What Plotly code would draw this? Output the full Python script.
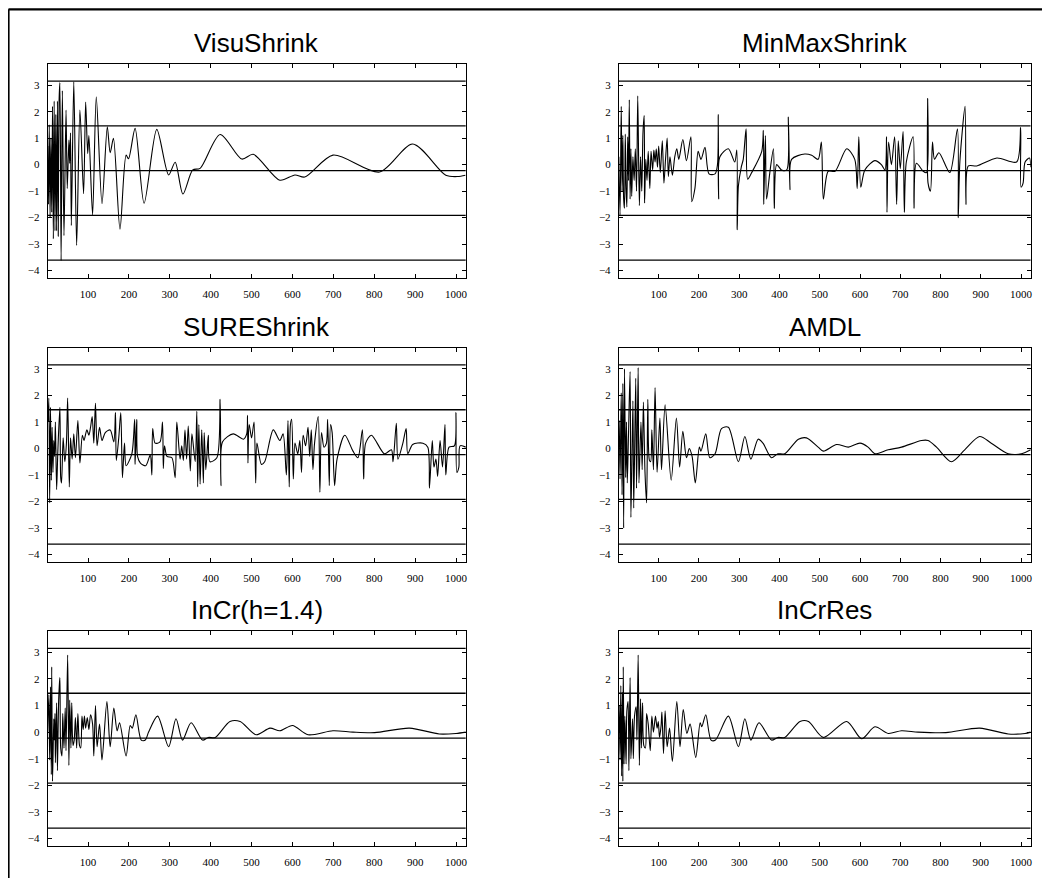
import plotly.graph_objects as go

# ---------------- data ----------------
titles = ["VisuShrink", "MinMaxShrink", "SUREShrink", "AMDL", "InCr(h=1.4)", "InCrRes"]
ref_levels = [3.15, 1.46, -0.23, -1.92, -3.61]
x_tickvals = [100, 200, 300, 400, 500, 600, 700, 800, 900, 1000]
y_tickvals = [-4, -3, -2, -1, 0, 1, 2, 3]

visu_x = [1, 3, 5, 7, 9, 11, 13, 15, 17, 19, 21, 23, 25, 27, 29, 31, 34, 37, 41, 46,
          49, 53, 55, 57, 59, 65, 72, 80, 89, 94, 99, 102, 111, 120, 134, 147, 154, 162, 178, 193,
          199, 215, 237, 268, 297, 313, 332, 356, 374, 423, 476, 504, 569, 606, 630, 699, 813, 894, 975, 1004,
          1023]
visu_y = [0.7, -1.5, 1.5, -2.0, 1.0, -1.8, 2.2, -2.8, 2.4, -2.5, 1.9, -2.5, 2.4, -2.7, 2.4, 3.1, -3.62, 2.79, -2.68, 2.06,
          -0.9, 0.93, 0.05, 1.2, -2.3, 3.13, -3.05, 2.06, -1.1, 2.36, 0.42, 1.1, -1.9, 2.56, -1.48, 1.43, 0.45, 0.99, -2.44, 0.36,
          0.22, 1.37, -1.46, 1.33, -0.39, 0.09, -1.11, -0.2, -0.14, 1.14, 0.21, 0.39, -0.59, -0.39, -0.47, 0.36, -0.28, 0.78, -0.4, -0.45,
          -0.4]

minmax_x = [1, 4, 7, 9, 11, 13, 15, 17, 19, 21, 23, 25, 27, 29, 31, 33, 36, 39, 42, 45,
            48, 52, 55, 58, 61, 64, 65, 68, 71, 74, 78, 81, 85, 88, 91, 94, 97, 100, 104, 109,
            113, 117, 121, 124, 128, 134, 140, 145, 150, 160, 169, 180, 182, 190, 198, 205, 215, 225, 240, 246,
            248, 249, 252, 273, 289, 294, 295, 298, 305, 310, 317, 321, 331, 356, 360, 361, 365, 368, 376, 385,
            387, 393, 405, 418, 422, 426, 430, 463, 480, 496, 504, 509, 521, 538, 567, 587, 593, 597, 602, 612,
            637, 653, 662, 666, 667, 671, 678, 686, 691, 695, 700, 707, 710, 715, 732, 734, 740, 757, 765, 768,
            769, 775, 780, 785, 796, 823, 842, 844, 848, 861, 863, 869, 890, 940, 989, 999, 1000, 1005, 1010, 1021,
            1024]
minmax_y = [0.3, -1.9, 2.2, -1.0, 1.1, -1.3, -1.65, 1.15, -0.9, -1.6, 1.05, -0.6, 2.45, -1.3, 0.6, -1.2, 0.3, -0.6, 0.6, -1.0,
            2.6, -1.55, 0.3, -1.0, 1.2, 1.85, -1.45, 0.2, -0.6, 0.5, -0.9, 0.5, -0.2, 0.55, 0.1, 0.6, -0.1, 0.7, -0.3, 0.9,
            -0.7, 0.2, 1.0, -0.45, 0.3, -0.4, 0.3, 0.6, 0.2, 0.95, 0.15, 1.05, -1.4, -0.9, 0.5, 0.2, 0.65, -0.35, -0.35, 0.0,
            1.9, -1.3, 0.3, 0.6, 0.1, 0.55, -2.46, -0.8, -0.1, 0.2, 1.35, -0.55, -0.3, 0.5, 1.3, -1.5, 1.1, -1.3, -0.3, 0.6,
            -1.65, 0.0, -0.2, -0.2, 1.8, -0.95, 0.2, 0.4, 0.35, 0.2, 0.85, -1.3, -0.25, -0.25, 0.6, 0.2, -0.9, 1.05, -0.85, -0.2,
            0.15, 0.0, -0.2, 1.05, -1.8, 0.85, 0.0, 1.05, -1.5, 0.9, -0.15, 1.25, -1.8, 0.1, 1.05, -1.65, 0.05, -0.25, -0.3, 2.5,
            -0.7, -1.0, 0.85, 0.2, 0.45, -0.3, 1.35, -2.0, 0.1, 2.2, -1.5, -0.05, -0.05, 0.25, 0.1, 1.4, -0.85, -0.7, 0.1, 0.25,
            -0.1]

sure_x = [2, 4, 6, 8, 10, 12, 14, 16, 18, 20, 23, 26, 31, 33, 35, 39, 43, 47, 50, 54,
          57, 61, 65, 69, 75, 80, 86, 90, 97, 102, 106, 110, 114, 118, 122, 128, 134, 142, 154, 163,
          167, 169, 175, 180, 184, 189, 193, 207, 214, 215, 219, 221, 228, 241, 252, 256, 258, 264, 276, 282,
          284, 287, 293, 305, 313, 317, 325, 329, 333, 337, 341, 345, 350, 354, 362, 366, 368, 371, 374, 378,
          382, 384, 388, 394, 398, 415, 423, 425, 429, 455, 480, 488, 490, 491, 494, 500, 506, 510, 513, 524,
          532, 553, 569, 577, 585, 589, 592, 595, 598, 602, 606, 613, 618, 622, 626, 632, 638, 642, 646, 650,
          654, 663, 667, 671, 677, 683, 686, 690, 693, 697, 703, 709, 728, 748, 760, 771, 774, 779, 793, 825,
          842, 846, 854, 858, 870, 878, 882, 894, 919, 931, 935, 942, 946, 951, 955, 961, 967, 973, 975, 983,
          996, 1000, 1002, 1007, 1010, 1024]
sure_y = [1.0, 1.9, -2.05, 1.55, -1.2, 0.8, -0.9, 0.3, -0.3, 1.0, -1.55, -0.1, 1.55, -1.1, -1.3, 0.4, -0.5, 0.2, 1.9, -1.45,
          0.4, -0.4, 0.55, -0.35, 1.05, -0.55, 0.5, 0.3, 0.7, 0.5, 0.8, 1.2, 0.2, 1.7, 0.1, 0.8, 0.3, 0.6, 0.7, 0.25,
          1.35, -0.45, 0.4, 1.35, -1.1, 0.2, -0.65, -0.2, 1.1, -0.6, 1.1, -0.3, -0.55, -0.65, -0.25, -1.0, 0.75, 0.2, 0.25, 1.0,
          -0.75, 0.1, -0.3, -0.35, -1.1, 1.0, -0.4, 0.1, -0.45, 0.7, -0.4, 0.85, -0.85, 0.55, -0.5, 1.4, -1.45, 0.9, -1.35, 0.7,
          -1.3, 0.6, -0.8, 0.5, -0.5, -0.35, 1.85, -1.4, 0.25, 0.55, 0.35, 0.55, 1.25, -0.55, 0.9, 0.4, 1.0, -1.3, 0.2, -0.6,
          -0.5, 0.7, 0.3, 0.55, -1.0, 1.05, -1.45, 0.9, 1.1, -1.15, 0.2, -0.2, 0.3, -0.9, 0.5, 0.1, 0.8, -0.3, 0.7, -0.8,
          0.2, 1.2, -1.65, 0.6, 0.05, 0.2, 1.1, -1.4, 0.9, 0.6, -1.4, -0.4, 0.5, -0.1, -0.35, 0.7, -1.15, 0.2, 0.5, -0.2,
          -0.05, -0.5, 0.95, -0.4, 0.2, 0.75, -0.2, 0.15, 0.2, 0.05, -1.5, 0.3, -0.7, -0.4, -1.05, 0.3, -0.7, 0.9, -1.0, 0.05,
          0.1, 1.35, -0.9, -0.7, 0.1, 0.05]

amdl_x = [1, 2, 4, 7, 9, 11, 13, 15, 18, 20, 22, 25, 29, 31, 36, 38, 43, 45, 49, 51,
          56, 59, 62, 66, 70, 73, 77, 80, 83, 87, 91, 96, 103, 107, 116, 131, 144, 152, 160, 169,
          176, 183, 191, 201, 205, 217, 227, 240, 256, 273, 298, 314, 329, 347, 359, 380, 396, 413, 447, 467,
          496, 509, 542, 571, 600, 620, 637, 670, 703, 753, 769, 790, 827, 860, 897, 926, 968, 1001, 1024]
amdl_y = [0.3, 1.05, -1.15, 2.1, -1.75, 2.45, -3.0, 3.0, -1.1, 1.0, -1.3, 0.5, 2.9, -2.6, 1.8, -2.25, 2.65, -1.5, 3.05, -1.3,
          1.0, -0.8, 1.75, -0.9, -2.05, 1.85, -0.45, -0.5, 0.7, -0.8, 2.3, -0.9, 1.15, -0.8, 1.65, -1.2, 1.15, -0.7, 0.65, -0.35,
          0.0, -0.3, -1.3, 0.05, -0.1, 0.55, -0.35, -0.2, 0.75, 0.8, -0.5, 0.45, -0.4, 0.35, 0.2, -0.35, -0.2, -0.2, 0.35, 0.4,
          0.05, -0.1, 0.15, 0.05, 0.2, 0.05, -0.2, -0.05, 0.05, 0.3, 0.3, 0.05, -0.5, -0.05, 0.45, 0.2, -0.2, -0.2, -0.05]

incr_x = [1, 4, 6, 8, 10, 11, 13, 16, 17, 19, 20, 23, 25, 28, 31, 33, 36, 38, 41, 44,
          46, 50, 53, 55, 58, 60, 63, 66, 69, 72, 75, 79, 82, 85, 88, 91, 94, 98, 102, 106,
          111, 114, 118, 122, 128, 134, 146, 154, 163, 171, 177, 193, 203, 208, 217, 230, 240, 248, 270, 297,
          315, 331, 352, 380, 394, 411, 447, 472, 511, 545, 569, 600, 638, 699, 748, 801, 886, 959, 1000, 1024]
incr_y = [0.0, 1.4, -1.05, 1.7, -1.6, 2.45, -1.85, 0.5, -0.3, 0.7, -1.15, 1.1, -1.45, 1.2, 2.05, -0.6, -0.9, 0.7, -0.6, 0.9,
          -0.7, 2.9, -1.25, 1.2, -0.6, 1.1, -0.5, -0.3, 0.55, -0.6, 0.7, -0.5, -0.6, 0.6, 0.1, 0.6, 0.15, 0.55, 0.1, 0.65,
          0.3, -0.9, 1.0, -0.55, 0.3, -1.05, 1.15, -0.55, 0.9, 0.05, 0.35, -0.9, 0.25, 0.15, 0.65, -0.3, -0.3, 0.0, 0.6, -0.55,
          0.5, -0.3, 0.35, -0.3, -0.2, -0.2, 0.4, 0.4, -0.1, 0.15, 0.05, 0.25, -0.1, 0.05, 0.0, -0.02, 0.15, -0.07, -0.05, 0.0]

incrres_x = [1, 2, 4, 6, 8, 10, 11, 12, 14, 16, 19, 21, 24, 26, 29, 31, 35, 37, 40, 44,
             46, 49, 52, 55, 57, 60, 63, 67, 70, 74, 79, 83, 87, 92, 96, 99, 102, 106, 108, 112,
             116, 121, 127, 134, 145, 153, 161, 170, 178, 192, 203, 207, 217, 230, 241, 273, 298, 314, 329, 349,
             380, 396, 413, 451, 472, 509, 567, 604, 637, 670, 703, 744, 813, 897, 968, 1010, 1024]
incrres_y = [0.0, 1.0, -1.05, 1.75, -1.65, 1.5, -1.85, 2.45, -1.2, 0.6, -1.2, 0.8, 1.15, -1.45, 2.05, -1.0, 0.5, -1.0, 0.6, 0.95,
             -0.3, 2.9, -1.25, 1.25, -0.6, 1.1, -0.5, -0.6, 0.7, 0.3, -0.7, 0.6, 0.0, 0.6, 0.15, 0.4, -0.2, 0.25, 0.75, -0.8,
             0.8, -0.55, 0.15, -1.1, 1.15, -0.55, 0.85, -0.05, 0.3, -0.95, 0.35, 0.2, 0.65, -0.3, -0.3, 0.6, -0.55, 0.5, -0.3, 0.35,
             -0.3, -0.2, -0.2, 0.4, 0.4, -0.2, 0.4, -0.25, 0.2, -0.05, 0.05, 0.0, -0.02, 0.15, -0.07, -0.05, 0.0]

series_x = [visu_x, minmax_x, sure_x, amdl_x, incr_x, incrres_x]
series_y = [visu_y, minmax_y, sure_y, amdl_y, incr_y, incrres_y]

# ---------------- layout geometry (page has an 8px body margin) ----------------
W, H = 1042, 870
OFF = 8
col_px = [(47.7 - OFF, 466.7 - OFF), (620.0 - OFF, 1032.7 - OFF)]
row_px = [(64.0 - OFF, 277.7 - OFF), (347.7 - OFF, 561.7 - OFF), (631.0 - OFF, 845.7 - OFF)]

fig = go.Figure()
tick_font = dict(family="Liberation Serif", size=11, color="black")

for i in range(6):
    r, c = divmod(i, 2)
    n = i + 1
    xa = "x" if n == 1 else f"x{n}"
    ya = "y" if n == 1 else f"y{n}"
    x0, x1 = col_px[c]
    y0, y1 = row_px[r]
    xdom = [x0 / W, x1 / W]
    ydom = [1 - y1 / H, 1 - y0 / H]

    for lvl in ref_levels:
        fig.add_trace(go.Scatter(x=[1, 1024], y=[lvl, lvl], mode="lines",
                                 line=dict(color="black", width=1.3),
                                 xaxis=xa, yaxis=ya, showlegend=False, hoverinfo="skip"))
    fig.add_trace(go.Scatter(x=series_x[i], y=series_y[i], mode="lines",
                             line=dict(color="black", width=1.1, shape="spline", smoothing=0.8),
                             xaxis=xa, yaxis=ya, showlegend=False))

    xkey = "xaxis" if n == 1 else f"xaxis{n}"
    ykey = "yaxis" if n == 1 else f"yaxis{n}"
    fig.update_layout(**{
        xkey: dict(domain=xdom, anchor=ya, range=[1, 1024], tickvals=x_tickvals,
                   ticks="inside", ticklen=4, tickcolor="black", mirror="allticks",
                   showline=True, linecolor="black", linewidth=1, showgrid=False,
                   zeroline=False, tickfont=tick_font, ticklabelstandoff=6),
        ykey: dict(domain=ydom, anchor=xa, range=[-4.27, 3.8], tickvals=y_tickvals,
                   ticks="inside", ticklen=4, tickcolor="black", mirror="allticks",
                   showline=True, linecolor="black", linewidth=1, showgrid=False,
                   zeroline=False, tickfont=tick_font, ticklabelstandoff=5),
    })
    fig.add_annotation(text=titles[i], xref="paper", yref="paper",
                       x=(x0 + x1) / 2 / W, y=1 - (y0 - 21) / H,
                       xanchor="center", yanchor="middle", showarrow=False,
                       font=dict(family="Liberation Sans", size=26, color="black"))

# outer frame lines (top and left)
fig.add_shape(type="line", xref="paper", yref="paper", x0=0.5 / W, x1=1, y0=1 - 1.3 / H, y1=1 - 1.3 / H,
              line=dict(color="black", width=2.2))
fig.add_shape(type="line", xref="paper", yref="paper", x0=0.5 / W, x1=0.5 / W, y0=0, y1=1 - 1.3 / H,
              line=dict(color="black", width=2.2))

fig.update_layout(width=W, height=H, margin=dict(l=0, r=0, t=0, b=0),
                  paper_bgcolor="white", plot_bgcolor="white", showlegend=False)

fig.write_html("out.html")
